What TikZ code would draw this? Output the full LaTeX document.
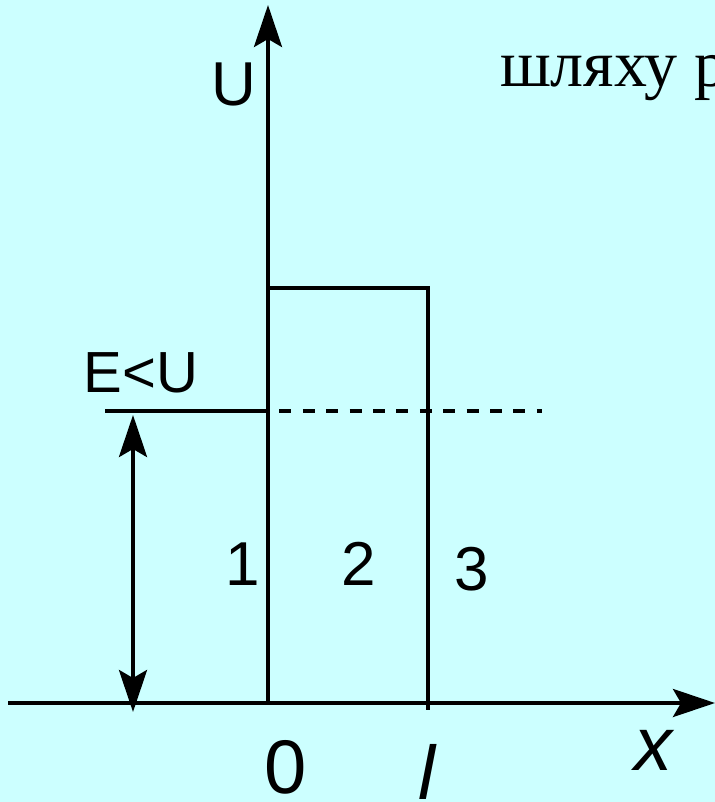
\documentclass[tikz,border=0pt]{standalone}
\usepackage{fontspec}
\setmainfont{Liberation Serif}
\setsansfont{Liberation Sans}
\usepackage{xcolor}
\usetikzlibrary{arrows.meta, positioning}
\definecolor{paleaqua}{RGB}{204,255,255}

\begin{document}
\begin{tikzpicture}[
    x=0.5pt, y=-0.5pt,
    line width=2pt,
    axis/.style={-{Stealth[length=21pt, width=14pt, inset=4pt]}},
    span/.style={{Stealth[length=21pt, width=14pt, inset=4pt]}-{Stealth[length=21pt, width=14pt, inset=4pt]}},
    label/.style={font=\sffamily\fontsize{31}{36}\selectfont, inner sep=0pt, anchor=base},
    biglabel/.style={font=\sffamily\fontsize{38}{44}\selectfont, inner sep=0pt, anchor=base}
]

\fill[paleaqua] (0,0) rectangle (715,802);
\clip (0,0) rectangle (715,802);

% points of the axes and the barrier
\coordinate (xstart) at (8,703);
\coordinate (xend) at (715,703);
\coordinate (origin) at (268,703);
\coordinate (ytop) at (268,5);
\coordinate (bartl) at (268,288);
\coordinate (bartr) at (428,288);
\coordinate (barbr) at (428,710);
\coordinate (estart) at (105,411);
\coordinate (eaxis) at (266,411);
\coordinate (dstart) at (256,411);
\coordinate (dend) at (542,411);
\coordinate (spantop) at (133,415);
\coordinate (spanbot) at (133,712);

\draw[axis] (xstart) -- (xend);
\draw[axis] (origin) -- (ytop);
\draw (bartl) -- (bartr) -- (barbr);
\draw (estart) -- (eaxis);
\draw[dash pattern=on 6pt off 5.7pt] (dstart) -- (dend);
\draw[span] (spantop) -- (spanbot);

\node[label] (U) at (234,106) {U};
\node[label, font=\sffamily\fontsize{29}{34}\selectfont] (EU) at (141,392) {E<U};
\node[label] (R1) at (243,585) {1};
\node[label] (R2) at (359,585) {2};
\node[label] (R3) at (472,590) {3};
\node[biglabel] (zero) at (286,793) {0};
\node[biglabel] (len) at (428,799) {\textit{l}};
\node[biglabel] (X) at (655,770) {\textit{x}};
\node[font=\fontsize{33}{38}\selectfont, inner sep=0pt, anchor=base west] (txt) at (498,87) {шляху р};

\end{tikzpicture}
\end{document}
